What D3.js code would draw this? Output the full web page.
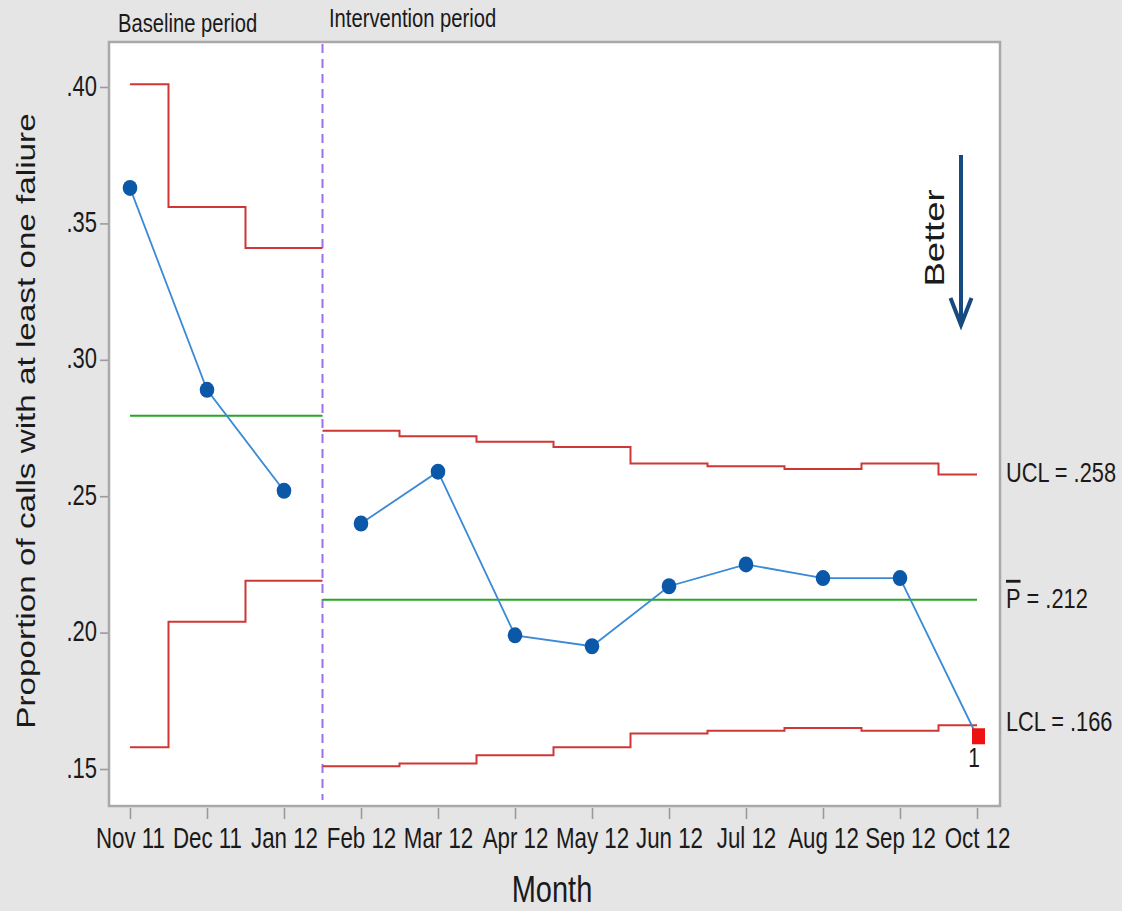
<!DOCTYPE html>
<html>
<head>
<meta charset="utf-8">
<script src="https://cdn.jsdelivr.net/npm/d3@7"></script>
<style>
  html, body { margin: 0; padding: 0; background: #e5e5e5; }
  svg { display: block; }
  text { font-family: "Liberation Sans", Arial, Helvetica, sans-serif; fill: #1a1a1a; }
</style>
</head>
<body>
<svg id="chart" width="1122" height="911"></svg>
<script>
// Monthly P chart: proportion of calls with at least one failure
const months = ["Nov 11", "Dec 11", "Jan 12", "Feb 12", "Mar 12", "Apr 12",
                "May 12", "Jun 12", "Jul 12", "Aug 12", "Sep 12", "Oct 12"];
const proportion = [0.363, 0.289, 0.252, 0.240, 0.259, 0.199,
                    0.195, 0.217, 0.225, 0.220, 0.220, 0.162];
const ucl = [0.401, 0.356, 0.341, 0.274, 0.272, 0.270,
             0.268, 0.262, 0.261, 0.260, 0.262, 0.258];
const lcl = [0.158, 0.204, 0.219, 0.151, 0.152, 0.155,
             0.158, 0.163, 0.164, 0.165, 0.164, 0.166];
const stageNames = ["Baseline period", "Intervention period"];
const stageFirst = [0, 3];          // index of first month in each stage
const stageLast = [2, 11];          // index of last month in each stage
const stageMean = [0.2795, 0.212];  // centre line (P-bar) per stage
const flagged = [11];               // points failing test 1
const yTicks = [0.15, 0.20, 0.25, 0.30, 0.35, 0.40];
const limitLabels = ["UCL = .258", ".212", "LCL = .166"];

const svg = d3.select("#chart");
const box = { left: 109, right: 1000, top: 42, bottom: 806 };
const STRETCH = 1.3; // glyphs are drawn taller than wide

const x = d3.scaleLinear().domain([0, months.length - 1]).range([130, 977]);
const y = d3.scaleLinear().domain([0.15, 0.40]).range([769, 87]);
const lastIdx = months.length - 1;

// plot frame
svg.append("rect")
  .attr("x", box.left).attr("y", box.top)
  .attr("width", box.right - box.left).attr("height", box.bottom - box.top)
  .attr("fill", "#ffffff").attr("stroke", "#a9a9a9").attr("stroke-width", 2.5);

// text helper: horizontal text stretched vertically
function hText(g, tx, ty, str, size, anchor) {
  return g.append("text")
    .attr("transform", `translate(${tx},${ty}) scale(1,${STRETCH})`)
    .attr("text-anchor", anchor || "start")
    .attr("font-size", size)
    .text(str);
}

// x axis
const xAxis = svg.append("g")
  .attr("transform", `translate(0,${box.bottom + 2})`)
  .call(d3.axisBottom(x).tickValues(d3.range(months.length))
        .tickFormat(i => months[i]).tickSize(11).tickSizeOuter(0));
xAxis.select(".domain").remove();
xAxis.selectAll(".tick line").attr("stroke", "#9a9a9a").attr("stroke-width", 1.6);
xAxis.selectAll(".tick text").remove();
xAxis.selectAll(".tick").each(function (i) {
  hText(d3.select(this), 0, 40, months[i], 22.3, "middle");
});

// y axis
const yAxis = svg.append("g")
  .attr("transform", `translate(${box.left - 1},0)`)
  .call(d3.axisLeft(y).tickValues(yTicks).tickSize(8).tickSizeOuter(0));
yAxis.select(".domain").remove();
yAxis.selectAll(".tick line").attr("stroke", "#9a9a9a").attr("stroke-width", 1.6);
yAxis.selectAll(".tick text").remove();
yAxis.selectAll(".tick").each(function (v) {
  hText(d3.select(this), -11, 8, d3.format(".2f")(v).replace(/^0/, ""), 22, "end");
});

// axis titles
hText(svg, 552, 902, "Month", 29, "middle");
svg.append("text")
  .attr("transform", `translate(35,421) rotate(-90) scale(1.33,1)`)
  .attr("text-anchor", "middle").attr("font-size", 25)
  .text("Proportion of calls with at least one faliure");

// stage labels
hText(svg, 118, 32, stageNames[0], 20.2, "start");
hText(svg, 329, 27, stageNames[1], 20.2, "start");

// stage divider
const divX = x(stageLast[0] + 0.5);
svg.append("line")
  .attr("x1", divX).attr("x2", divX).attr("y1", box.top + 2).attr("y2", box.bottom - 6)
  .attr("stroke", "#a070e8").attr("stroke-width", 2).attr("stroke-dasharray", "9,6");

// control limits as steps per stage
const lo = i => Math.max(0, i - 0.5);
const hi = i => Math.min(lastIdx, i + 0.5);
const stepLine = d3.line().x(d => x(d[0])).y(d => y(d[1]));
const plot = svg.append("g");

stageFirst.forEach((a, s) => {
  const b = stageLast[s];
  const idx = d3.range(a, b + 1);
  [ucl, lcl].forEach(arr => {
    const pts = idx.flatMap(i => [[lo(i), arr[i]], [hi(i), arr[i]]]);
    plot.append("path").attr("d", stepLine(pts))
      .attr("fill", "none").attr("stroke", "#cf3636").attr("stroke-width", 2);
  });
  plot.append("path")
    .attr("d", stepLine([[lo(a), stageMean[s]], [hi(b), stageMean[s]]]))
    .attr("fill", "none").attr("stroke", "#26a626").attr("stroke-width", 2);
});

// observed proportions
const dataLine = d3.line().x(i => x(i)).y(i => y(proportion[i]));
stageFirst.forEach((a, s) => {
  plot.append("path").attr("d", dataLine(d3.range(a, stageLast[s] + 1)))
    .attr("fill", "none").attr("stroke", "#3a8ad6").attr("stroke-width", 1.8);
});

const normal = d3.range(months.length).filter(i => !flagged.includes(i));
plot.selectAll("ellipse.pt").data(normal).join("ellipse")
  .attr("class", "pt")
  .attr("cx", i => x(i)).attr("cy", i => y(proportion[i]))
  .attr("rx", 7.3).attr("ry", 8)
  .attr("fill", "#0b57a8");

plot.selectAll("rect.flag").data(flagged).join("rect")
  .attr("class", "flag")
  .attr("x", i => x(i) - 5).attr("y", i => y(proportion[i]) - 8)
  .attr("width", 13).attr("height", 16).attr("fill", "#ee1111");
flagged.forEach(i => hText(plot, x(i) - 3, y(proportion[i]) + 31, "1", 21, "middle"));

// limit labels for the last stage
const labX = box.right + 6;
hText(svg, labX, y(ucl[lastIdx]) + 8, limitLabels[0], 21.8, "start");
const pbar = hText(svg, labX, y(stageMean[1]) + 8, "", 21.8, "start");
pbar.append("tspan").style("text-decoration", "overline").text("P");
pbar.append("tspan").text(" = " + limitLabels[1]);
hText(svg, labX, y(lcl[lastIdx]) + 6, limitLabels[2], 21.8, "start");

// direction of improvement
const arrowX = 961;
svg.append("line")
  .attr("x1", arrowX).attr("x2", arrowX).attr("y1", 155).attr("y2", 322)
  .attr("stroke", "#174a7e").attr("stroke-width", 4);
svg.append("path")
  .attr("d", `M${arrowX - 10.5},298 L${arrowX},325 L${arrowX + 10.5},298`)
  .attr("fill", "none").attr("stroke", "#174a7e").attr("stroke-width", 4)
  .attr("stroke-linejoin", "miter");
svg.append("text")
  .attr("transform", `translate(944,238) rotate(-90) scale(1.35,1)`)
  .attr("text-anchor", "middle").attr("font-size", 27)
  .text("Better");
</script>
</body>
</html>
